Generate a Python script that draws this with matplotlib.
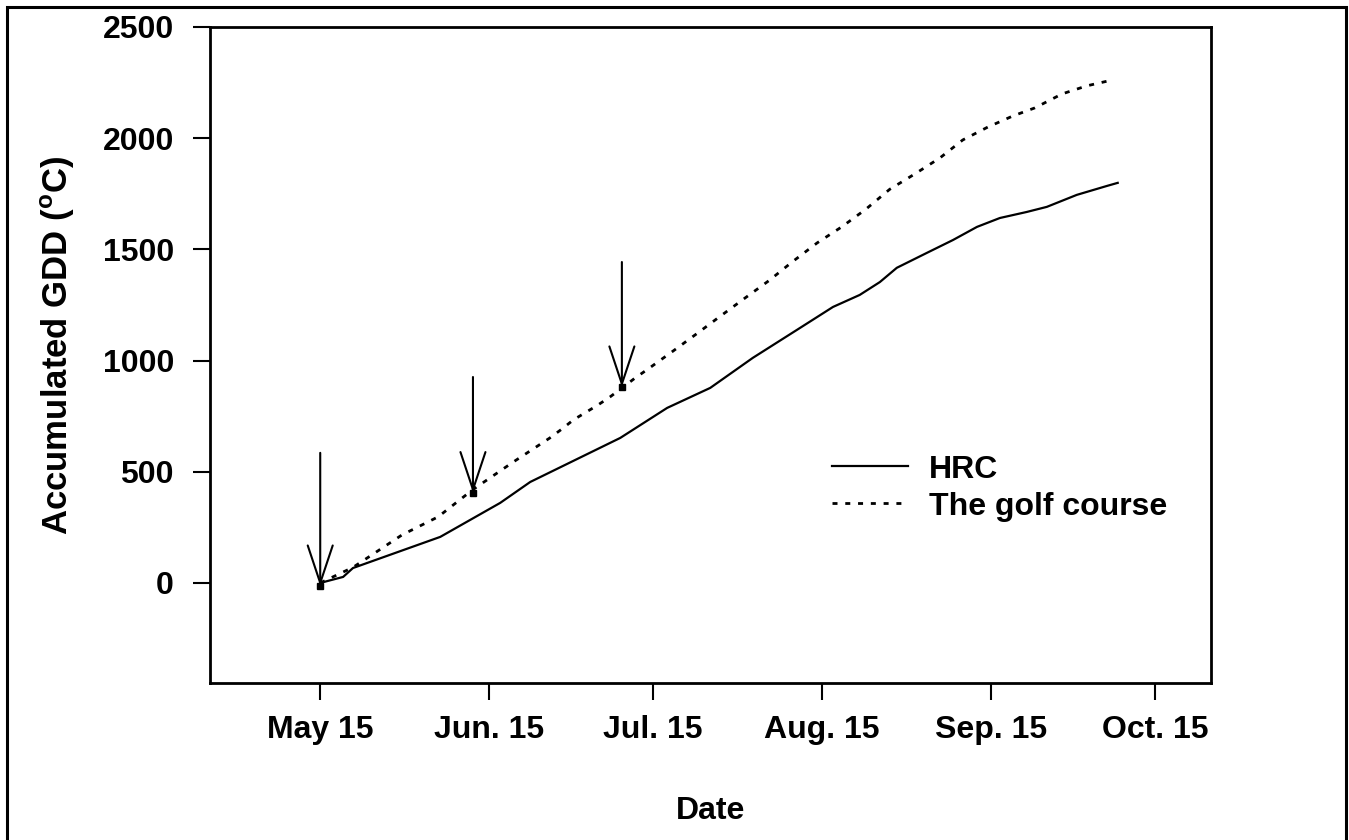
import numpy as np
import matplotlib
matplotlib.use("Agg")
import matplotlib.pyplot as plt
from matplotlib.lines import Line2D

plt.rcParams['font.family'] = ['Liberation Sans', 'DejaVu Sans']
plt.rcParams['font.weight'] = 'bold'
plt.rcParams['mathtext.fontset'] = 'custom'
plt.rcParams['mathtext.rm'] = 'Liberation Sans:bold'
plt.rcParams['mathtext.bf'] = 'Liberation Sans:bold'

# x values are days after May 15
tick_days = [0, 31, 61, 92, 123, 153]
tick_labels = ["May 15", "Jun. 15", "Jul. 15", "Aug. 15", "Sep. 15", "Oct. 15"]

hrc_day = [0, 4.2, 6.0, 22.0, 33.0, 38.5, 55.0, 63.6, 71.5, 79.3, 87.4, 94.0,
           98.9, 102.6, 105.7, 111.2, 116.0, 120.4, 124.6, 129.5, 133.2,
           138.7, 144.2, 146.2]
hrc_gdd = [0, 27, 67, 207, 360, 454, 652, 787, 877, 1012, 1138, 1241,
           1295, 1353, 1417, 1484, 1542, 1601, 1641, 1668, 1691,
           1745, 1785, 1799]

golf_day = [0, 6.0, 8.6, 15.0, 21.6, 28.0, 35.4, 42.1, 44.3, 46.4, 50.9, 53.1,
            55.5, 57.7, 60.1, 64.7, 69.1, 73.1, 77.7, 82.3, 86.5, 91.1,
            95.6, 100.0, 104.4, 109.0, 113.6, 117.8, 122.4, 127.0, 131.0,
            136.0, 140.5, 144.4]
golf_gdd = [0, 70, 112, 216, 297, 420, 544, 652, 692, 733, 800, 836,
            880, 921, 962, 1043, 1122, 1195, 1278, 1360, 1443, 1529,
            1601, 1680, 1770, 1839, 1911, 1992, 2050, 2100, 2136,
            2199, 2235, 2257]

# arrows marking the sampling dates
arrow_day = [0, 28.0, 55.3]
arrow_top = [585, 926, 1443]
arrow_tip = [-15, 405, 880]

fig = plt.figure(figsize=(13.49, 8.40), dpi=100)
ax = fig.add_axes([0.1557, 0.1869, 0.742, 0.781])

ax.plot(hrc_day, hrc_gdd, color='black', lw=1.6, label='HRC')
ax.plot(golf_day, golf_gdd, color='black', lw=2.0, linestyle=(0, (1.8, 2.8)),
        label='The golf course')

for d, top, tip in zip(arrow_day, arrow_top, arrow_tip):
    ax.annotate("", xy=(d, tip), xytext=(d, top),
                arrowprops=dict(arrowstyle="->,head_length=1.35,head_width=0.45",
                                color='black', lw=1.5, shrinkA=0, shrinkB=0,
                                mutation_scale=20))
ax.plot(arrow_day, arrow_tip, 's', color='black', ms=4)

ax.set_xlim(-20.2, 163.3)
ax.set_ylim(-450, 2500)
ax.set_xticks(tick_days)
ax.set_xticklabels(tick_labels)
ax.set_yticks([0, 500, 1000, 1500, 2000, 2500])
ax.tick_params(axis='both', direction='out', length=12, width=1.5,
               labelsize=23, pad=11)
ax.tick_params(axis='y', pad=14)
for s in ax.spines.values():
    s.set_linewidth(2.0)

ax.set_xlabel("Date", fontsize=23, fontweight='bold')
ax.xaxis.set_label_coords(0.5, -0.172)
ax.set_ylabel(r"Accumulated GDD ($^{\mathrm{o}}$C)", fontsize=25, fontweight='bold')
ax.yaxis.set_label_coords(-0.133, 0.515)

handles = [Line2D([], [], color='black', lw=1.6),
           Line2D([], [], color='black', lw=2.0, linestyle=(0, (1.8, 2.8)))]
ax.legend(handles, ['HRC', 'The golf course'], loc='center left',
          bbox_to_anchor=(0.621, 0.297), frameon=False, fontsize=23,
          handlelength=2.4, handletextpad=0.65, labelspacing=0.22,
          borderpad=0, borderaxespad=0)

border = plt.Rectangle((0.005, -0.05), 0.993, 1.0417, transform=fig.transFigure,
                       fill=False, lw=2.2, edgecolor='black', clip_on=False)
fig.patches.append(border)

fig.savefig("out.png", dpi=100)
